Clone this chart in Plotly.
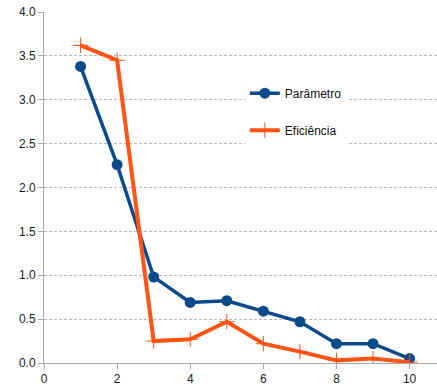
import plotly.graph_objects as go

x_vals = [1, 2, 3, 4, 5, 6, 7, 8, 9, 10]
parametro = [3.38, 2.26, 0.98, 0.69, 0.71, 0.59, 0.47, 0.22, 0.22, 0.05]
eficiencia = [3.62, 3.45, 0.25, 0.27, 0.47, 0.22, 0.13, 0.03, 0.05, 0.01]
names = ["Parâmetro", "Eficiência"]
y_ticks = [0, 0.5, 1.0, 1.5, 2.0, 2.5, 3.0, 3.5, 4.0]
x_ticks = [0, 2, 4, 6, 8, 10]

fig = go.Figure()
fig.add_trace(go.Scatter(
    x=x_vals, y=parametro, name=names[0], mode="lines+markers",
    line=dict(color="#0b4a8b", width=3.5),
    marker=dict(symbol="circle", size=11, color="#0b4a8b"),
    legendgroup="a",
))
fig.add_trace(go.Scatter(
    x=x_vals, y=eficiencia, name=names[1], mode="lines+markers",
    line=dict(color="#ff5416", width=4),
    marker=dict(symbol="cross-thin", size=11, line=dict(color="#ff5416", width=1)),
    legendgroup="b",
))

fig.update_layout(
    width=437, height=389,
    margin=dict(l=44, r=0, t=12, b=26),
    paper_bgcolor="white", plot_bgcolor="white",
    font=dict(family="Liberation Sans, Arial, sans-serif", size=12, color="#1a1a1a"),
    legend=dict(
        x=0.511, y=0.81, xanchor="left", yanchor="top",
        bgcolor="white", tracegroupgap=18,
        font=dict(size=12, color="#111"),
        itemwidth=30,
    ),
    showlegend=True,
)
fig.update_xaxes(
    range=[0, 10.75], tickvals=x_ticks, showgrid=False,
    showline=True, linecolor="#a8a8a8", linewidth=1,
    ticks="outside", ticklen=5, tickcolor="#a8a8a8",
    zeroline=False,
)
fig.update_yaxes(
    range=[0, 4.0], tickvals=y_ticks, tickformat=".1f",
    showgrid=True, gridcolor="#b8b8b8", griddash="3px,2px", gridwidth=1,
    showline=True, linecolor="#a8a8a8", linewidth=1,
    ticks="outside", ticklen=5, tickcolor="#a8a8a8",
    zeroline=False,
)

fig.write_html("out.html")
